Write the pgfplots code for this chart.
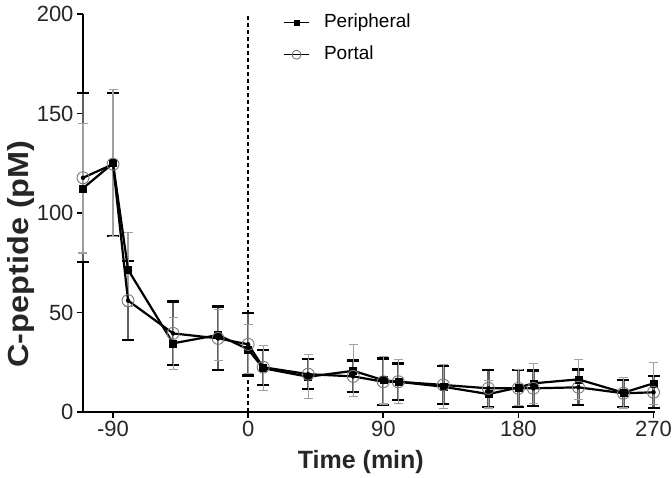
\documentclass[border=0pt]{standalone}
\usepackage{fontspec}
\setmainfont{Liberation Sans}
\usepackage{pgfplots}
\pgfplotsset{compat=1.18}
\usepackage{pgfplotstable}

\definecolor{barDark}{RGB}{95,95,95}
\definecolor{barLight}{RGB}{160,160,160}
\definecolor{circ}{RGB}{120,120,120}

% Peripheral: value, error (gray thin bars)
\pgfplotstableread{
t    y     ep    em
-110 112.4 32.5  32.5
-90  125.0 37.0  37.0
-80  71.5  18.5  18.5
-50  34.5  13.0  13.0
-20  38.7  13.0  13.0
0    31.5  12.3  12.3
10   22.0  11.2  11.2
40   17.7  11.0  11.0
70   20.7  13.0  13.0
90   16.0  12.0  12.0
100  15.2  11.0  11.0
130  12.7  11.0  11.0
160  9.0   7.0   7.0
180  12.3  9.0   9.0
190  14.4  10.0  10.0
220  16.4  10.0  10.0
250  9.7   7.7   7.7
270  14.4  10.6  10.6
}\peripheral

% Portal: value, error (dark thick bars)
\pgfplotstableread{
t    y     ep    em
-110 117.7 42.5  42.5
-90  124.5 36.0  36.0
-80  56.0  20.0  20.0
-50  39.5  16.0  16.0
-20  37.0  16.0  16.0
0    34.0  15.7  15.7
10   22.5  8.8   8.8
40   19.0  7.5   7.5
70   17.9  8.0   8.0
90   15.2  11.7  11.7
100  15.2  9.2   9.2
130  13.6  9.6   9.6
160  11.9  9.4   9.4
180  11.9  9.2   9.2
190  11.9  9.0   9.0
220  12.4  9.0   9.0
250  9.4   6.7   6.7
270  9.9   8.0   8.0
}\portal

\begin{document}
\begin{tikzpicture}
\begin{axis}[
  at={(0,0)}, anchor=south west,
  scale only axis, width=572bp, height=398bp,
  xmin=-110, xmax=271, ymin=0, ymax=200,
  axis x line*=bottom, axis y line*=left,
  axis line style={black, line width=1.6bp, -},
  xtick={-90,0,90,180,270}, xticklabels={-90,0,90,180,270},
  ytick={0,50,100,150,200}, yticklabels={0,50,100,150,200},
  tick align=outside, major tick length=6bp,
  tick style={black, line width=1.6bp},
  ticklabel style={font=\fontsize{22bp}{26bp}\selectfont, text=black!85},
  clip=false,
  xlabel={Time (min)},
  ylabel={\scalebox{1.12}[1]{C-peptide (pM)}},
  every axis x label/.style={at={(axis description cs:0.4857,0)}, anchor=base, yshift=-56bp,
     font=\fontsize{25bp}{30bp}\selectfont\bfseries, text=black!85},
  every axis y label/.style={at={(axis description cs:0,0.397)}, xshift=-62bp, rotate=90, anchor=center,
     font=\fontsize{29bp}{32bp}\selectfont\bfseries, text=black!85},
  legend image code/.code={\draw[mark repeat=2,mark phase=2,#1] plot coordinates {(0bp,0bp) (12.5bp,0bp) (25bp,0bp)};
     \path[draw=none, fill=none] (0bp,0bp) rectangle (40bp,0.1bp);},
  legend image post style={line width=1.6bp, every mark/.append style={scale=0.75}},
  legend style={at={(axis description cs:0.3497,1.0)}, anchor=north west, draw=none, fill=none,
     inner sep=0pt, row sep=15bp, font=\fontsize{19bp}{22bp}\selectfont,
     nodes={inner sep=0pt, text depth=4bp, text height=13bp}},
  legend cell align=left,
]
% dashed reference line at t = 0
\addplot[black, line width=2bp, dash pattern=on 4bp off 3bp, forget plot] coordinates {(0,0) (0,200)};

% error bars: portal (thick, dark, black caps)
\addplot[only marks, mark=none, forget plot,
  error bars/.cd, y dir=both, y explicit,
  error bar style={line width=2.4bp, color=barDark},
  error mark options={rotate=90, line width=2.2bp, black, mark size=6bp}]
  table[x=t, y=y, y error plus=ep, y error minus=em]{\portal};
% error bars: peripheral (thin, light)
\addplot[only marks, mark=none, forget plot,
  error bars/.cd, y dir=both, y explicit,
  error bar style={line width=1.1bp, color=barLight},
  error mark options={rotate=90, line width=1.1bp, barLight, mark size=4.5bp}]
  table[x=t, y=y, y error plus=ep, y error minus=em]{\peripheral};

% lines and markers
\addplot[black, line width=2.2bp, mark=square*, mark size=3.5bp, mark options={solid, fill=black, line width=0.5bp}]
  table[x=t, y=y]{\peripheral};
\addlegendentry{Peripheral}
\addplot[black, line width=2.2bp, mark=o, mark size=6bp, mark options={solid, draw=circ, line width=0.9bp, fill=none}]
  table[x=t, y=y]{\portal};
\addlegendentry{Portal}
\end{axis}
\pgfresetboundingbox
\path (-83bp,-66bp) rectangle (589bp,412bp);
\end{tikzpicture}
\end{document}
